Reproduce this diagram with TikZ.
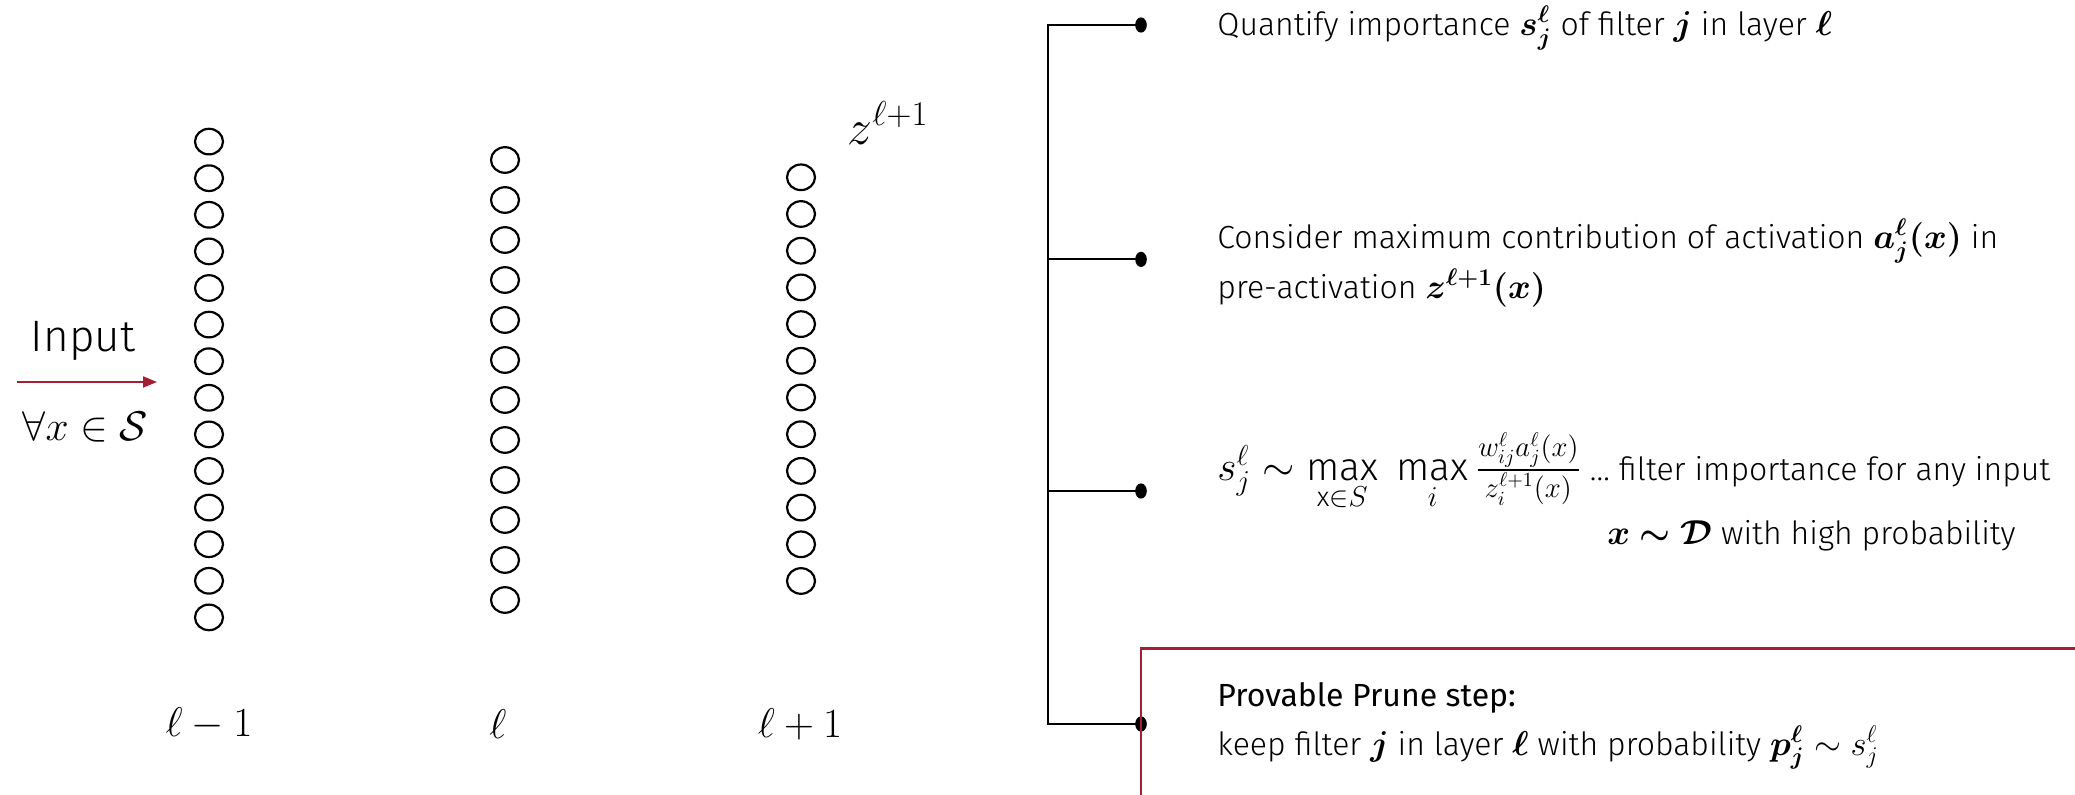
\documentclass[tikz,border=0pt]{standalone}
\usepackage{amsmath,amssymb}
\usepackage{bm}
\usepackage{fontspec}
\setmainfont{Fira Sans Light}
\newfontfamily\regfont{Fira Sans}
\usetikzlibrary{arrows.meta,shapes.geometric}
\definecolor{mitred}{RGB}{163,31,52}
% math set a little larger than the running text
\newcommand\mth[1]{{\fontsize{18}{25}\selectfont$#1$}}

\begin{document}
\begin{tikzpicture}[x=0.5pt,y=-0.5pt,
  neuron/.style={ellipse,draw,line width=1.1pt,minimum width=14pt,minimum height=12.8pt,inner sep=0pt},
  bullet/.style={ellipse,fill,inner sep=0pt,minimum width=5.8pt,minimum height=7.6pt},
  bracket/.style={line width=1.1pt},
  desc/.style={anchor=west,inner sep=0pt,font=\fontsize{16}{25}\selectfont,align=left},
  layerlbl/.style={font=\fontsize{21.5}{25}\selectfont},
  inarrow/.style={draw=mitred,line width=1pt,-{Triangle[length=7pt,width=5.5pt]}},
  redframe/.style={draw=mitred,line width=1.4pt}
]
\useasboundingbox (0,0) rectangle (2075,795);
\clip (0,0) rectangle (2075,795);

% three layers of units
\foreach \i in {0,...,13} \node[neuron] (a\i) at (209,141.6+36.6*\i) {};
\foreach \i in {0,...,11} \node[neuron] (b\i) at (505,160+40*\i) {};
\foreach \i in {0,...,11} \node[neuron] (c\i) at (801,177.3+36.7*\i) {};

% layer labels
\node[layerlbl] (lm1) at (209,724) {$\ell-1$};
\node[layerlbl] (l0) at (498,724) {$\ell$};
\node[layerlbl] (lp1) at (800,724) {$\ell+1$};
\node[font=\fontsize{23}{26}\selectfont] (zlbl) at (888,123) {$z^{\ell+1}$};

% input arrow
\node[font=\fontsize{22}{26}\selectfont] (inlbl) at (83,341) {Input};
\coordinate (inS) at (17,382);
\coordinate (inE) at (157,382);
\draw[inarrow] (inS) -- (inE);
\node[font=\fontsize{22.5}{26}\selectfont] (insym) at (85,427) {$\forall x\in\mathcal{S}$};

% bracket with bullets
\coordinate (spT) at (1048,25);
\coordinate (spB) at (1048,724);
\node[bullet] (d1) at (1141,25) {};
\node[bullet] (d2) at (1141,259.4) {};
\node[bullet] (d3) at (1141,491) {};
\node[bullet] (d4) at (1141,724) {};
\draw[bracket] (d1.center) -- (spT) -- (spB) -- (d4.center);
\draw[bracket] (d2.center) -- (d2.center -| spT);
\draw[bracket] (d3.center) -- (d3.center -| spT);

% highlighted step
\coordinate (frTL) at (1141,648.5);
\draw[redframe] (frTL) rectangle (2090,810);

% descriptions
\node[desc] (t1) at (1217,28) {Quantify importance \mth{\bm{s_j^{\ell}}} of filter \mth{\bm{j}} in layer \mth{\bm{\ell}}};
\node[desc] (t2) at (1217,263) {Consider maximum contribution of activation \mth{\bm{a_j^{\ell}(x)}} in\\ pre-activation \mth{\bm{z^{\ell+1}(x)}}};
\node[desc] (t3) at (1217,472) {{\fontsize{19.5}{25}\selectfont$s_j^{\ell}\sim\max\limits_{\mathrm{x}\in S}\;\max\limits_{i}\tfrac{w_{ij}^{\ell}a_j^{\ell}(x)}{z_i^{\ell+1}(x)}$} \dots\ filter importance for any input};
\node[desc] (t3b) at (1607,536) {\mth{\bm{x\sim\mathcal{D}}} with high probability};
\node[desc] (t4a) at (1217,697.5) {{\regfont Provable Prune step:}};
\node[desc] (t4b) at (1217,747.7) {keep filter \mth{\bm{j}} in layer \mth{\bm{\ell}} with probability \mth{\bm{p_j^{\ell}}\sim s_j^{\ell}}};
\end{tikzpicture}
\end{document}
